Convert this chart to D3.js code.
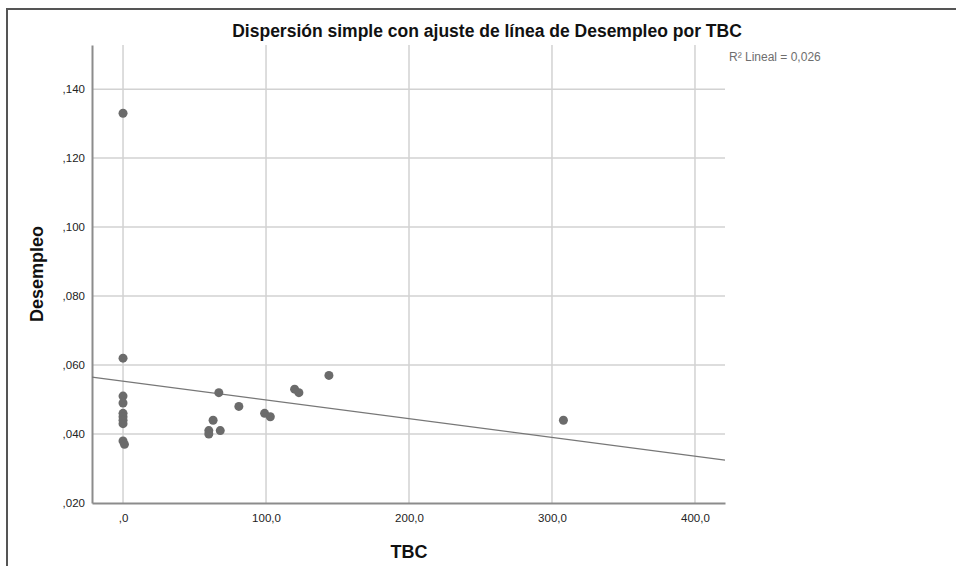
<!DOCTYPE html>
<html>
<head>
<meta charset="utf-8">
<script src="https://cdn.jsdelivr.net/npm/d3@7"></script>
<style>
  body { margin: 0; background: #fff; }
  svg { display: block; font-family: "Liberation Sans", Arial, sans-serif; }
</style>
</head>
<body>
<div id="chart"></div>
<script>
// TBC (x) and Desempleo (y) values
const tbc = [0, 0, 0, 0, 0, 0, 0, 0, 0, 1,
  67, 81, 63, 60, 60, 68, 99, 103, 120, 123, 144, 308];
const desempleo = [0.133, 0.062, 0.051, 0.049, 0.046, 0.045, 0.044, 0.043, 0.038, 0.037,
  0.052, 0.048, 0.044, 0.041, 0.040, 0.041, 0.046, 0.045, 0.053, 0.052, 0.057, 0.044];

// linear fit shown in the chart
const fitIntercept = 0.0553;
const fitSlope = -0.0000543;
const r2Label = 'R\u00b2 Lineal = 0,026';

const xTicks = [0, 100, 200, 300, 400];
const xTickLabels = [',0', '100,0', '200,0', '300,0', '400,0'];
const yTicks = [0.02, 0.04, 0.06, 0.08, 0.10, 0.12, 0.14];
const yTickLabels = [',020', ',040', ',060', ',080', ',100', ',120', ',140'];

const title = 'Dispersión simple con ajuste de línea de Desempleo por TBC';

const width = 956, height = 566;
const margin = {top: 45, right: 231, bottom: 63, left: 92};
const w = width - margin.left - margin.right;
const h = height - margin.top - margin.bottom;

const svg = d3.select('#chart').append('svg')
  .attr('width', width)
  .attr('height', height);

// outer frame (only top and left edges visible)
svg.append('line').attr('x1', 6).attr('x2', width).attr('y1', 9).attr('y2', 9)
  .attr('stroke', '#555').attr('stroke-width', 2);
svg.append('line').attr('x1', 7).attr('x2', 7).attr('y1', 8).attr('y2', height)
  .attr('stroke', '#555').attr('stroke-width', 2);

const x = d3.scaleLinear().domain([-21.7, 421]).range([0, w]);
const y = d3.scaleLinear().domain([0.02, 0.1528]).range([h, 0]);

const g = svg.append('g')
  .attr('transform', 'translate(' + margin.left + ',' + margin.top + ')');

// gridlines
g.append('g').selectAll('line').data(xTicks)
  .enter().append('line')
  .attr('x1', d => x(d)).attr('x2', d => x(d))
  .attr('y1', 0).attr('y2', h)
  .attr('stroke', '#d2d2d2').attr('stroke-width', 1.5);
g.append('g').selectAll('line').data(yTicks.slice(1))
  .enter().append('line')
  .attr('x1', 0).attr('x2', w)
  .attr('y1', d => y(d)).attr('y2', d => y(d))
  .attr('stroke', '#d2d2d2').attr('stroke-width', 1.5);

// axes
const xAxis = g.append('g')
  .attr('transform', 'translate(0,' + h + ')')
  .call(d3.axisBottom(x).tickValues(xTicks)
    .tickFormat((d, i) => xTickLabels[i]).tickSize(0).tickPadding(11));
const yAxis = g.append('g')
  .call(d3.axisLeft(y).tickValues(yTicks)
    .tickFormat((d, i) => yTickLabels[i]).tickSize(0).tickPadding(7));

[xAxis, yAxis].forEach(a => {
  a.select('.domain').attr('stroke', '#8c8c8c').attr('stroke-width', 2);
  a.selectAll('text').attr('font-size', 11.5).attr('fill', '#222')
    .attr('font-family', '"Liberation Sans", Arial, sans-serif');
});

// fit line
const xd = x.domain();
g.append('line')
  .attr('x1', x(xd[0])).attr('y1', y(fitIntercept + fitSlope * xd[0]))
  .attr('x2', x(xd[1])).attr('y2', y(fitIntercept + fitSlope * xd[1]))
  .attr('stroke', '#777').attr('stroke-width', 1.2);

// points
g.selectAll('.dot').data(tbc)
  .enter().append('circle')
  .attr('class', 'dot')
  .attr('cx', d => x(d))
  .attr('cy', (d, i) => y(desempleo[i]))
  .attr('r', 4.5)
  .attr('fill', '#6b6b6b');

// texts
svg.append('text')
  .attr('x', 487).attr('y', 37)
  .attr('text-anchor', 'middle')
  .attr('font-size', 17.5).attr('font-weight', 'bold').attr('fill', '#111')
  .text(title);

svg.append('text')
  .attr('x', 729).attr('y', 61)
  .attr('font-size', 12).attr('fill', '#6e6e6e')
  .text(r2Label);

svg.append('text')
  .attr('transform', 'translate(43,274) rotate(-90)')
  .attr('text-anchor', 'middle')
  .attr('font-size', 18).attr('font-weight', 'bold').attr('fill', '#111')
  .text('Desempleo');

svg.append('text')
  .attr('x', 409).attr('y', 558)
  .attr('text-anchor', 'middle')
  .attr('font-size', 18).attr('font-weight', 'bold').attr('fill', '#111')
  .text('TBC');
</script>
</body>
</html>
